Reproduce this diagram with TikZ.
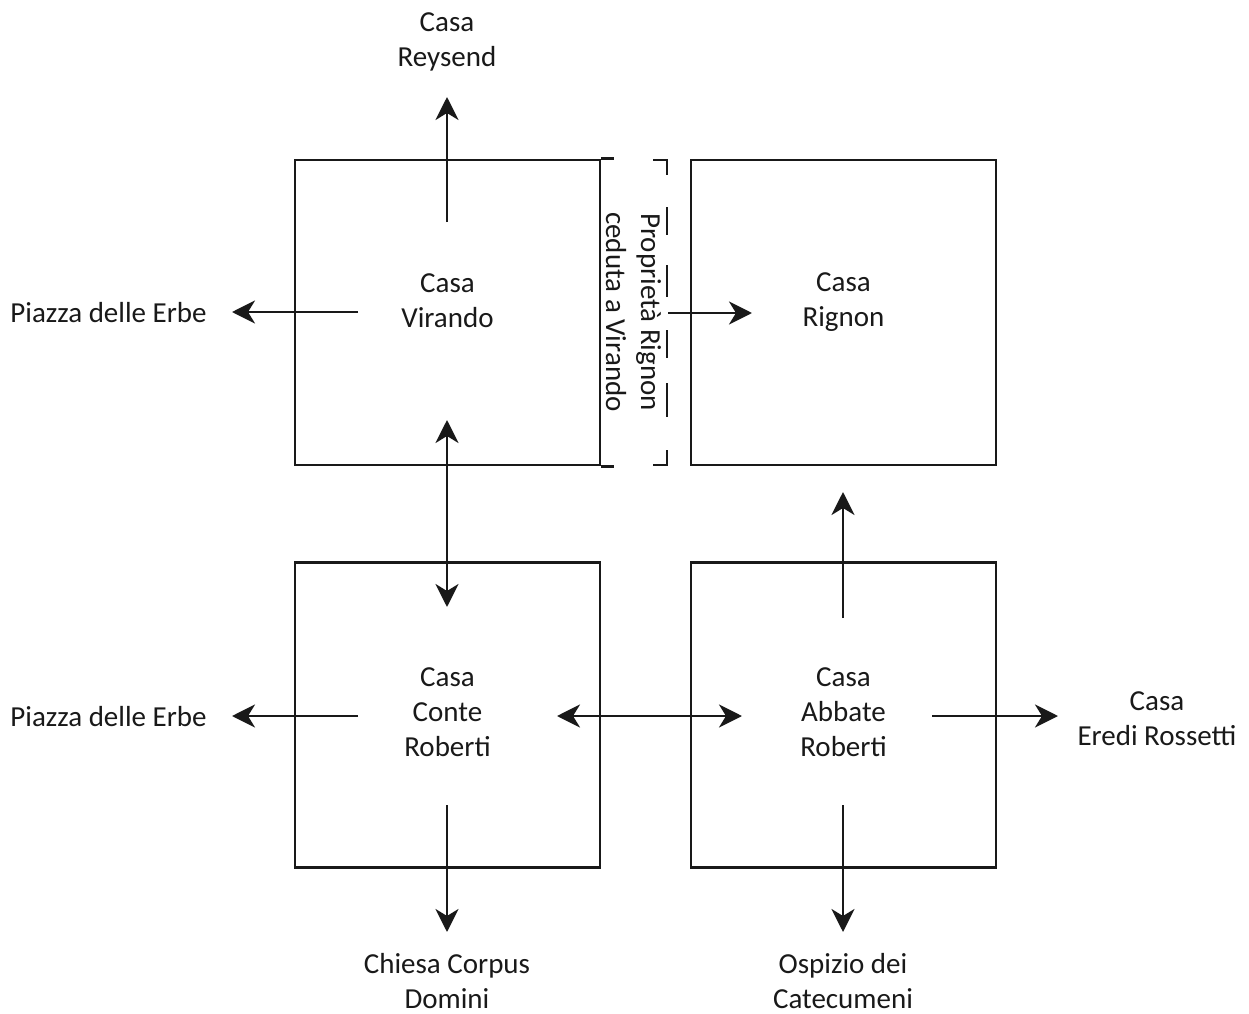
\documentclass[tikz,border=0pt]{standalone}
\usepackage{fontspec}
\setmainfont{Carlito}
\usetikzlibrary{arrows.meta,positioning,calc}
\definecolor{ink}{RGB}{25,25,25}
\tikzset{
  >={Stealth[length=4.6mm,width=4.6mm,inset=1.4mm]},
  house/.style={draw=ink,line width=1.5pt,minimum width=6.1cm,minimum height=6.1cm,inner sep=0pt},
  placename/.style={font=\fontsize{16.5}{19.8}\selectfont,text=ink,align=center,inner sep=0pt},
  flow/.style={->,line width=1.7pt,draw=ink},
  twoway/.style={<->,line width=1.7pt,draw=ink},
  strip/.style={line width=1.5pt,draw=ink},
}

\begin{document}
\begin{tikzpicture}[x=0.02cm,y=-0.02cm]
  \useasboundingbox (0,0) rectangle (1249,1014);
  % the four houses
  \node[house] (virando) at (447.5,312.5) {};
  \node[house] (rignon) at (843.5,312.5) {};
  \node[house] (conte) at (447.5,715) {};
  \node[house] (abbate) at (843.5,715) {};
  \node[placename] (virando-t) at (447.5,301) {Casa\\Virando};
  \node[placename] (rignon-t) at (843.5,302) {Casa\\Rignon};
  \node[placename] (conte-t) at (447.5,712) {Casa\\Conte\\Roberti};
  \node[placename] (abbate-t) at (843.5,712) {Casa\\Abbate\\Roberti};
  % neighbours
  \node[placename] (reysend) at (447,42) {Casa\\Reysend};
  \node[placename,anchor=east] (erbe1) at (207,313) {Piazza delle Erbe};
  \node[placename,anchor=east] (erbe2) at (207,717) {Piazza delle Erbe};
  \node[placename] (corpus) at (447,981) {Chiesa Corpus\\Domini};
  \node[placename] (ospizio) at (843,981) {Ospizio dei\\Catecumeni};
  \node[placename] (rossetti) at (1157,719) {Casa\\Eredi Rossetti};
  % arrow ends
  \coordinate (v-n) at (447,222); \coordinate (v-nn) at (447,97);
  \coordinate (v-w) at (358,312); \coordinate (v-ww) at (232,312);
  \coordinate (v-s) at (447,420); \coordinate (c-n) at (447,607);
  \coordinate (c-w) at (358,716); \coordinate (c-ww) at (232,716);
  \coordinate (c-s) at (447,805); \coordinate (c-ss) at (447,932);
  \coordinate (c-e) at (557,716); \coordinate (a-w) at (742,716);
  \coordinate (a-e) at (932,716); \coordinate (a-ee) at (1058,716);
  \coordinate (a-n) at (843,618); \coordinate (a-nn) at (843,492);
  \coordinate (a-s) at (843,805); \coordinate (a-ss) at (843,932);
  \coordinate (cession) at (668,313); \coordinate (r-w) at (752,313);
  \foreach \a/\b in {v-n/v-nn,v-w/v-ww,c-w/c-ww,c-s/c-ss,a-e/a-ee,a-n/a-nn,a-s/a-ss,cession/r-w}
    \draw[flow] (\a) -- (\b);
  \draw[twoway] (v-s) -- (c-n);
  \draw[twoway] (c-e) -- (a-w);
  % ceded strip
  \draw[strip] (virando.north east) -- ++(13,0);
  \draw[strip] (virando.south east) -- ++(13,0);
  \draw[strip] (653,160) -- (667,160) -- (667,175);
  \draw[strip] (653,465) -- (667,465) -- (667,450);
  \foreach \ya/\yb in {207/235,265/297,330/358,383/417}
    \draw[strip] (667,\ya) -- (667,\yb);
  \node[placename,rotate=-90] (ceded) at (633.5,312) {Proprietà Rignon\\ceduta a Virando};
\end{tikzpicture}
\end{document}
